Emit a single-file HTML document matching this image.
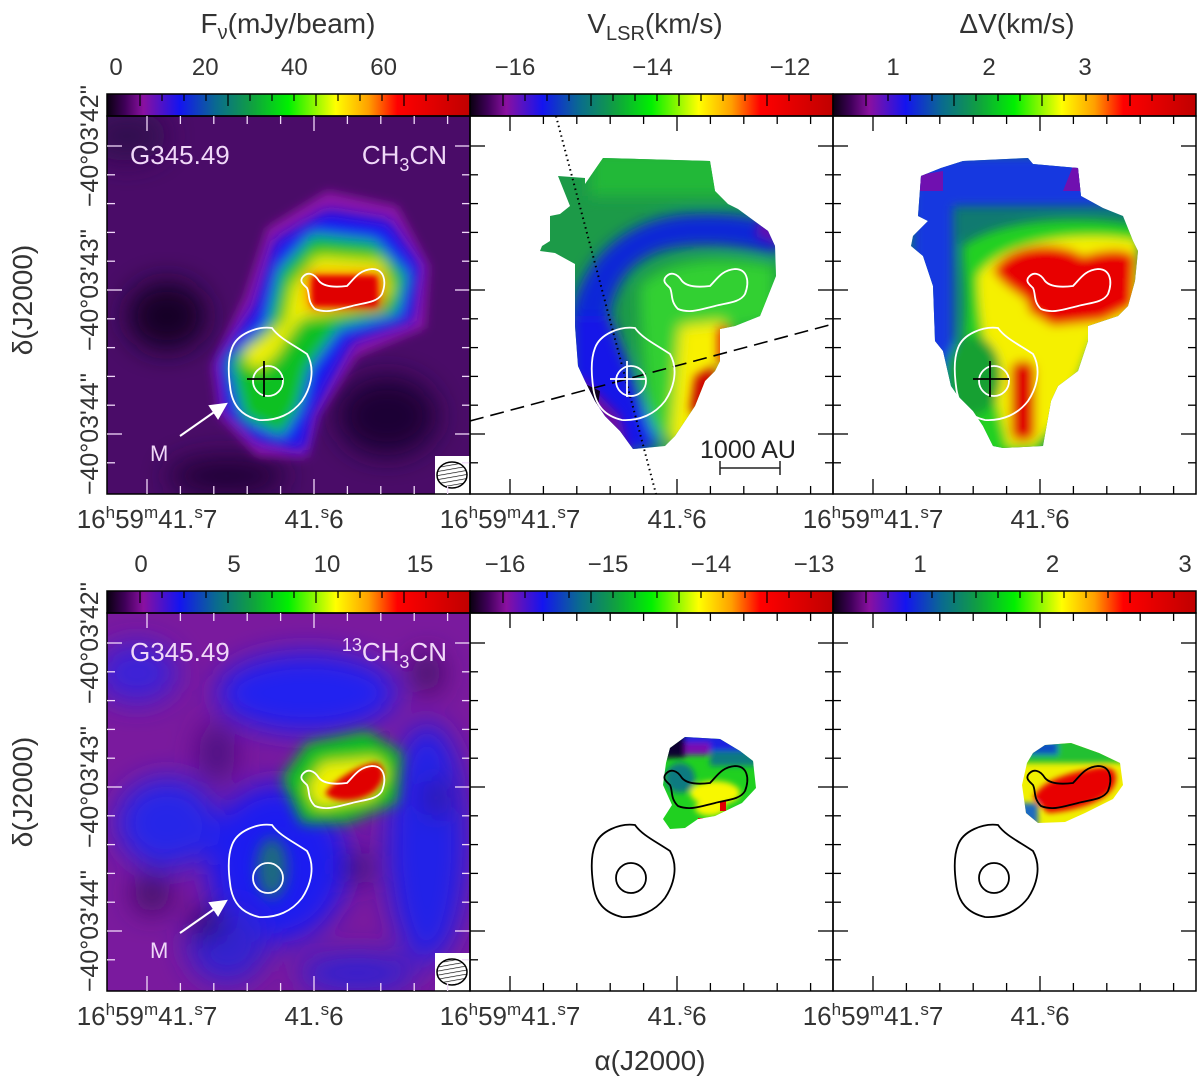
<!DOCTYPE html>
<html><head><meta charset="utf-8"><style>
html,body{margin:0;padding:0;background:#fff;}
svg{display:block;font-family:"Liberation Sans","DejaVu Sans",sans-serif;}
</style></head><body>
<svg id="fig" width="1200" height="1087" viewBox="0 0 1200 1087" xmlns="http://www.w3.org/2000/svg">
<defs>
<linearGradient id="cmap" x1="0" x2="1" y1="0" y2="0">
<stop offset="0" stop-color="#0a0010"/><stop offset="0.05" stop-color="#40005a"/>
<stop offset="0.1" stop-color="#8a10a0"/><stop offset="0.2" stop-color="#1414f0"/>
<stop offset="0.3" stop-color="#0a6a90"/><stop offset="0.4" stop-color="#10a040"/>
<stop offset="0.5" stop-color="#00f000"/><stop offset="0.63" stop-color="#ffff00"/>
<stop offset="0.72" stop-color="#ffa000"/><stop offset="0.8" stop-color="#ff0000"/>
<stop offset="1" stop-color="#c00000"/></linearGradient>
<filter id="b8" x="-50%" y="-50%" width="200%" height="200%"><feGaussianBlur stdDeviation="7"/></filter>
<filter id="b5" x="-50%" y="-50%" width="200%" height="200%"><feGaussianBlur stdDeviation="5"/></filter>
<filter id="b3" x="-50%" y="-50%" width="200%" height="200%"><feGaussianBlur stdDeviation="3"/></filter>
<filter id="b14" x="-50%" y="-50%" width="200%" height="200%"><feGaussianBlur stdDeviation="14"/></filter>
<clipPath id="pclip"><rect x="0" y="0" width="363" height="378"/></clipPath>
<clipPath id="m2"><polygon points="88,60 115,62 115,68 133,42 240,45 245,75 258,88 268,93 298,115 305,130 306,160 298,180 290,200 265,210 250,213 250,245 245,255 235,265 225,290 215,305 205,320 195,330 163,333 150,315 135,300 125,285 115,265 108,250 105,210 105,148 85,137 70,135 72,130 80,125 80,100 90,98 100,90"/></clipPath>
<clipPath id="m3"><polygon points="88,60 108,52 130,45 195,42 200,48 245,52 248,80 270,92 290,100 300,125 305,135 302,165 295,190 285,200 255,210 255,225 245,255 225,270 218,285 210,330 170,332 160,330 150,310 140,295 125,280 118,270 110,235 102,225 100,170 90,140 78,130 80,120 95,105 85,100"/></clipPath>
<clipPath id="m5"><polygon points="200,135 215,124 250,126 270,138 283,148 286,175 272,190 245,203 228,206 215,215 200,216 193,206 202,192 193,172 196,150"/></clipPath>
<clipPath id="m6"><polygon points="200,140 212,132 238,130 266,140 287,150 290,172 280,186 252,200 232,209 205,210 193,200 189,172 194,150"/></clipPath>
<pattern id="hatch" width="4" height="4" patternUnits="userSpaceOnUse" patternTransform="rotate(80)"><rect width="4" height="4" fill="#fff"/><line x1="0" y1="0" x2="0" y2="4" stroke="#000" stroke-width="1.3"/></pattern>
</defs>

<text x="288" y="33" font-size="28" text-anchor="middle" fill="#333">F<tspan font-size="20" dy="6">ν</tspan><tspan dy="-6">(mJy/beam)</tspan></text>
<text x="655" y="33" font-size="28" text-anchor="middle" fill="#333">V<tspan font-size="20" dy="7">LSR</tspan><tspan dy="-7">(km/s)</tspan></text>
<text x="1017" y="33" font-size="28" text-anchor="middle" fill="#333">ΔV(km/s)</text>
<text x="650" y="1070" font-size="28" text-anchor="middle" fill="#333">α(J2000)</text>
<text transform="translate(32,300) rotate(-90)" font-size="28" text-anchor="middle" fill="#333">δ(J2000)</text>
<text transform="translate(32,792) rotate(-90)" font-size="28" text-anchor="middle" fill="#333">δ(J2000)</text>

<g transform="translate(107,116)" clip-path="url(#pclip)">
<rect width="363" height="378" fill="#4a0c68"/>
<g filter="url(#b14)">
<ellipse cx="60" cy="200" rx="40" ry="35" fill="#140428"/>
<ellipse cx="280" cy="300" rx="50" ry="40" fill="#1e0636"/>
<ellipse cx="20" cy="20" rx="40" ry="25" fill="#300850"/>
<ellipse cx="120" cy="360" rx="60" ry="20" fill="#200638"/>
</g>
<g filter="url(#b5)">
<polygon points="105,250 112,300 150,340 200,342 212,300 250,240 318,212 322,150 290,90 220,75 160,112 138,180" fill="#8c18a8"/>
</g>
<g filter="url(#b8)">
<polygon points="112,245 118,295 150,325 198,335 205,300 245,225 305,205 313,150 282,105 220,95 168,125 148,190" fill="#1414f0"/>
<polygon points="122,245 136,302 175,320 192,292 202,252 232,212 290,198 300,160 268,125 205,118 172,155 160,210" fill="#10c020"/>
<polygon points="145,232 165,245 185,215 195,202 265,192 285,175 275,145 210,140 185,170 178,205" fill="#f0f000"/>
<ellipse cx="150" cy="240" rx="12" ry="12" fill="#f0f000"/>
<rect x="200" y="157" width="75" height="36" fill="#ff0000"/>
</g>
<rect x="205" y="160" width="65" height="30" fill="#e00000" filter="url(#b3)"/>
<use href="#contours-white"/>
</g>

<g transform="translate(470,116)" clip-path="url(#pclip)">
<rect width="363" height="378" fill="#fff"/>
<g clip-path="url(#m2)">
<rect width="363" height="378" fill="#1c9a48"/>
<g filter="url(#b8)">
<rect x="120" y="35" width="150" height="45" fill="#22b838"/>
<path d="M100,200 C115,130 170,100 220,98 C260,96 290,100 310,110 L310,140 C270,130 230,125 190,135 C150,150 140,180 135,230 Z" fill="#0e28d8"/>
<path d="M170,170 C200,140 260,140 305,150 L305,205 L255,215 L230,260 L210,320 L180,320 C175,260 170,220 170,170 Z" fill="#30d030"/>
<path d="M100,200 L140,200 L170,280 L190,330 L150,340 L100,300 Z" fill="#1414e8"/>
<polygon points="210,210 255,205 255,250 235,270 222,330 200,330 205,270" fill="#f8f000"/>
</g>
<g filter="url(#b5)">
<polygon points="110,260 150,300 160,340 140,340 105,290" fill="#7010a0"/>
<polygon points="290,100 310,110 310,130 285,120" fill="#6010b0"/>
<polygon points="225,260 245,250 245,290 230,300 220,295" fill="#d00000"/>
<rect x="248" y="212" width="10" height="35" fill="#ff2000"/>
</g>
<polygon points="115,268 130,275 128,290 118,282" fill="#100020"/>
</g>
<line x1="86" y1="0" x2="186" y2="378" stroke="#000" stroke-width="2" stroke-dasharray="1.5,3.5"/>
<line x1="0" y1="305" x2="363" y2="208" stroke="#000" stroke-width="1.6" stroke-dasharray="14,7"/>
<use href="#contours-white-nocross"/>
<g stroke="#fff" stroke-width="1.8"><line x1="140" y1="263" x2="176" y2="263"/><line x1="157" y1="245" x2="157" y2="281"/></g>
<text x="278" y="342" font-size="25" text-anchor="middle" fill="#222">1000 AU</text>
<g stroke="#222" stroke-width="1.5"><line x1="250" y1="352" x2="310" y2="352"/><line x1="250" y1="345" x2="250" y2="359"/><line x1="310" y1="345" x2="310" y2="359"/></g>
</g>

<g transform="translate(833,116)" clip-path="url(#pclip)">
<rect width="363" height="378" fill="#fff"/>
<g clip-path="url(#m3)">
<rect width="363" height="378" fill="#107a70"/>
<g filter="url(#b5)">
<rect x="80" y="40" width="230" height="50" fill="#1238e0"/>
<rect x="80" y="90" width="40" height="200" fill="#1238e0"/>
<path d="M130,130 C170,100 260,100 305,110 L310,220 L260,230 L240,280 L205,340 L120,340 L120,280 C140,200 130,160 130,130 Z" fill="#20d020"/>
<path d="M145,160 C170,120 260,115 305,125 L305,200 L260,220 L230,300 L200,330 L175,330 L160,270 C150,220 145,190 145,160 Z" fill="#f5f000"/>
<path d="M160,155 C175,125 230,125 250,140 C265,135 290,130 302,140 L300,190 L270,205 L220,210 L195,195 C200,180 175,178 160,155 Z" fill="#e80000"/>
<rect x="178" y="245" width="24" height="80" rx="10" fill="#e00000"/>
<ellipse cx="140" cy="260" rx="28" ry="40" fill="#18a030"/>
</g>
<polygon points="80,60 110,55 110,75 85,75" fill="#7010b0"/>
<polygon points="240,50 250,50 250,75 230,75" fill="#7010b0"/>
</g>
<use href="#contours-white-nocross"/>
<g stroke="#000" stroke-width="1.8"><line x1="140" y1="263" x2="176" y2="263"/><line x1="157" y1="245" x2="157" y2="281"/></g>
</g>

<g transform="translate(107,613)" clip-path="url(#pclip)">
<rect width="363" height="378" fill="#7a1a9e"/>
<g filter="url(#b14)">
<ellipse cx="200" cy="80" rx="90" ry="40" fill="#2020f0"/>
<ellipse cx="60" cy="210" rx="50" ry="45" fill="#2828e8"/>
<ellipse cx="170" cy="250" rx="70" ry="80" fill="#1c1cf0"/>
<ellipse cx="320" cy="230" rx="40" ry="120" fill="#2424e8"/>
<ellipse cx="120" cy="330" rx="40" ry="40" fill="#3020d0"/>
<ellipse cx="250" cy="360" rx="60" ry="20" fill="#3020d0"/>
<ellipse cx="30" cy="60" rx="40" ry="30" fill="#3a20d8"/>
<ellipse cx="110" cy="140" rx="18" ry="30" fill="#4a1080"/>
<ellipse cx="45" cy="280" rx="18" ry="20" fill="#3a0a60"/>
<ellipse cx="100" cy="310" rx="16" ry="14" fill="#2a0640"/>
<ellipse cx="250" cy="255" rx="15" ry="15" fill="#3a0a60"/>
<ellipse cx="320" cy="60" rx="15" ry="20" fill="#3a0a60"/>
<ellipse cx="330" cy="185" rx="10" ry="18" fill="#3a0a60"/>
</g>
<g filter="url(#b8)">
<polygon points="175,165 200,130 260,118 295,140 290,190 240,210 195,210" fill="#10c020"/>
<polygon points="200,175 215,150 270,145 280,160 265,185 210,195" fill="#f0f000"/>
<ellipse cx="165" cy="255" rx="15" ry="30" fill="#1a6a80"/>
</g>
<path d="M218,180 C230,165 255,150 270,150 C280,155 278,170 265,180 C250,190 225,190 218,180 Z" fill="#e00000" filter="url(#b3)"/>
<use href="#contours-white-nocross"/>
</g>

<g transform="translate(470,613)" clip-path="url(#pclip)">
<rect width="363" height="378" fill="#fff"/>
<g clip-path="url(#m5)">
<rect width="363" height="378" fill="#20d020"/>
<g filter="url(#b3)">
<rect x="180" y="115" width="110" height="25" fill="#1a20e0"/>
<rect x="185" y="120" width="30" height="25" fill="#100030"/>
<rect x="215" y="130" width="25" height="12" fill="#7a10b0"/>
<rect x="240" y="138" width="50" height="15" fill="#107a80"/>
<ellipse cx="210" cy="165" rx="15" ry="15" fill="#107a80"/>
<ellipse cx="245" cy="180" rx="25" ry="12" fill="#f8f800"/>
<ellipse cx="240" cy="195" rx="15" ry="8" fill="#f8f800"/>
</g>
<rect x="250" y="188" width="6" height="10" fill="#e00000"/>
<rect x="228" y="205" width="10" height="6" fill="#e00000"/>
</g>
<use href="#contours-black"/>
</g>

<g transform="translate(833,613)" clip-path="url(#pclip)">
<rect width="363" height="378" fill="#fff"/>
<g clip-path="url(#m6)">
<rect width="363" height="378" fill="#f0f000"/>
<g filter="url(#b3)">
<rect x="185" y="125" width="110" height="25" fill="#20c030"/>
<rect x="195" y="128" width="30" height="14" fill="#1050c0"/>
<rect x="185" y="190" width="20" height="25" fill="#1a6ac0"/>
<path d="M200,185 C210,165 240,160 260,155 C280,150 288,160 280,175 C270,190 240,198 215,200 Z" fill="#e80000"/>
</g>
</g>
<use href="#contours-black"/>
</g>

<defs>
<g id="contours-white" fill="none" stroke="#fff" stroke-width="1.8">
<path d="M125,232 C130,218 150,210 165,212 C172,222 185,228 200,238 C208,252 205,270 195,285 C185,298 170,305 152,304 C135,300 125,290 123,270 C121,255 121,242 125,232 Z"/>
<circle cx="161" cy="265" r="15"/>
<path d="M195,162 C200,155 207,157 212,165 C218,172 232,171 240,170 C247,163 252,154 265,153 C277,153 280,165 275,178 C270,187 255,187 245,190 C232,193 220,198 208,193 C200,185 203,178 200,172 C196,168 193,166 195,162 Z"/>
<line x1="140" y1="263" x2="176" y2="263" stroke="#000"/><line x1="157" y1="245" x2="157" y2="281" stroke="#000"/>
</g>
<g id="contours-white-nocross" fill="none" stroke="#fff" stroke-width="1.8">
<path d="M125,232 C130,218 150,210 165,212 C172,222 185,228 200,238 C208,252 205,270 195,285 C185,298 170,305 152,304 C135,300 125,290 123,270 C121,255 121,242 125,232 Z"/>
<circle cx="161" cy="265" r="15"/>
<path d="M195,162 C200,155 207,157 212,165 C218,172 232,171 240,170 C247,163 252,154 265,153 C277,153 280,165 275,178 C270,187 255,187 245,190 C232,193 220,198 208,193 C200,185 203,178 200,172 C196,168 193,166 195,162 Z"/>
</g>
<g id="contours-black" fill="none" stroke="#000" stroke-width="1.8">
<path d="M125,232 C130,218 150,210 165,212 C172,222 185,228 200,238 C208,252 205,270 195,285 C185,298 170,305 152,304 C135,300 125,290 123,270 C121,255 121,242 125,232 Z"/>
<circle cx="161" cy="265" r="15"/>
<path d="M195,162 C200,155 207,157 212,165 C218,172 232,171 240,170 C247,163 252,154 265,153 C277,153 280,165 275,178 C270,187 255,187 245,190 C232,193 220,198 208,193 C200,185 203,178 200,172 C196,168 193,166 195,162 Z"/>
</g>
</defs>

<g fill="#f0d8f8" font-size="26">
<text x="130" y="164">G345.49</text>
<text x="447" y="164" text-anchor="end">CH<tspan font-size="18" dy="7">3</tspan><tspan dy="-7">CN</tspan></text>
<text x="150" y="461" font-size="22">M</text>
</g>
<g fill="#f0d8f8" font-size="26">
<text x="130" y="661">G345.49</text>
<text x="447" y="661" text-anchor="end"><tspan font-size="18" dy="-10">13</tspan><tspan dy="10">CH</tspan><tspan font-size="18" dy="7">3</tspan><tspan dy="-7">CN</tspan></text>
<text x="150" y="958" font-size="22">M</text>
</g>
<g stroke="#fff" stroke-width="2" fill="#fff">
<line x1="180" y1="436" x2="220" y2="408"/><polygon points="226,404 210,406 218,418"/>
<line x1="180" y1="933" x2="220" y2="905"/><polygon points="226,901 210,903 218,915"/>
</g>
<g>
<rect x="435" y="456" width="35" height="38" fill="#fff"/><ellipse cx="452" cy="475" rx="15" ry="13" fill="url(#hatch)" stroke="#000" stroke-width="1.5"/>
<rect x="435" y="953" width="35" height="38" fill="#fff"/><ellipse cx="452" cy="972" rx="15" ry="13" fill="url(#hatch)" stroke="#000" stroke-width="1.5"/>
</g>
<g id="axes"></g>
</svg>
<script>
// Colorbar tick labels and values
const cbFluxTop = [0, 20, 40, 60];
const cbVelTop = [-16, -14, -12];
const cbWidthTop = [1, 2, 3];
const cbFluxBot = [0, 5, 10, 15];
const cbVelBot = [-16, -15, -14, -13];
const cbWidthBot = [1, 2, 3];
// RA / Dec axis labels
const raLabels = ["16h59m41.s7", "41.s6"];
const decLabels = ["−40°03'42''", "−40°03'43''", "−40°03'44''"];

const NS = "http://www.w3.org/2000/svg";
const axes = document.getElementById("axes");
function mk(tag, attrs, parent) {
  const e = document.createElementNS(NS, tag);
  for (const k in attrs) e.setAttribute(k, attrs[k]);
  (parent || axes).appendChild(e);
  return e;
}
const cols = [107, 470, 833];
const rows = [116, 613];
const PW = 363, PH = 378;

const bars = [
  {x0: 107, y: 94, vals: cbFluxTop, map: v => 116 + 4.46 * v, name: "flux"},
  {x0: 470, y: 94, vals: cbVelTop, map: v => 515 + 68.75 * (v + 16), name: "velocity"},
  {x0: 833, y: 94, vals: cbWidthTop, map: v => 893 + 96 * (v - 1), name: "linewidth"},
  {x0: 107, y: 591, vals: cbFluxBot, map: v => 141 + 18.6 * v, name: "flux-13"},
  {x0: 470, y: 591, vals: cbVelBot, map: v => 505 + 103 * (v + 16), name: "velocity-13"},
  {x0: 833, y: 591, vals: cbWidthBot, map: v => 920 + 132.5 * (v - 1), name: "linewidth-13"}
];
bars.forEach(b => {
  const r = mk("rect", {x: b.x0, y: b.y, width: 363, height: 22, fill: "url(#cmap)", stroke: "#000", "stroke-width": 1.5});
  
  
  for (let i = 1; i < 17; i++) {
    const x = b.x0 + 11 + i * 22;
    if (x > b.x0 + 360) break;
    const t = mk("line", {x1: x, x2: x, y1: b.y, y2: b.y + (i % 4 === 1 ? 12 : 7), stroke: "#000", "stroke-width": 1.2});
    
    
  }
  b.vals.forEach(v => {
    const t = mk("text", {x: b.map(v), y: b.y - 19, "font-size": 24, "text-anchor": "middle", fill: "#333"});
    t.textContent = (v < 0 ? "−" + Math.abs(v) : String(v));
    
    
  });
});

rows.forEach((py, ri) => {
  cols.forEach((px, ci) => {
    const tc = (ci === 0) ? "#f0d8f8" : "#000";
    const f = mk("rect", {x: px, y: py, width: PW, height: PH, fill: "none", stroke: "#000", "stroke-width": 1.5});
    
    
    for (let k = 0; k < 10; k++) {
      const x = px + 40 + k * 33.4, L = (k % 5 === 0) ? 15 : 8;
      mk("line", {x1: x, x2: x, y1: py, y2: py + L, stroke: tc, "stroke-width": 1.3});
      mk("line", {x1: x, x2: x, y1: py + PH, y2: py + PH - L, stroke: tc, "stroke-width": 1.3});
    }
    for (let k = 0; k < 13; k++) {
      const y = py + 30 + k * 28.8 - 28.8;
      if (y <= py + 2 || y >= py + PH - 2) continue;
      const L = ((k - 1) % 5 === 0) ? 15 : 8;
      mk("line", {x1: px, x2: px + L, y1: y, y2: y, stroke: tc, "stroke-width": 1.3});
      mk("line", {x1: px + PW, x2: px + PW - L, y1: y, y2: y, stroke: tc, "stroke-width": 1.3});
    }
    const ly = py + PH + 34;
    const t1 = mk("text", {x: px + 40, y: ly, "font-size": 26, "text-anchor": "middle", fill: "#333"});
    t1.innerHTML = '16<tspan font-size="17" dy="-10">h</tspan><tspan dy="10">59</tspan><tspan font-size="17" dy="-10">m</tspan><tspan dy="10">41.</tspan><tspan font-size="17" dy="-10">s</tspan><tspan dy="10">7</tspan>';
    
    
    const t2 = mk("text", {x: px + 207, y: ly, "font-size": 26, "text-anchor": "middle", fill: "#333"});
    t2.innerHTML = '41.<tspan font-size="17" dy="-10">s</tspan><tspan dy="10">6</tspan>';
    
    
  });
  decLabels.forEach((lab, i) => {
    const y = py + 30 + i * 144;
    const t = mk("text", {transform: "translate(98," + y + ") rotate(-90)", "font-size": 25, "text-anchor": "middle", fill: "#333"});
    t.textContent = lab;
    
    
  });
});
</script>
</body></html>
